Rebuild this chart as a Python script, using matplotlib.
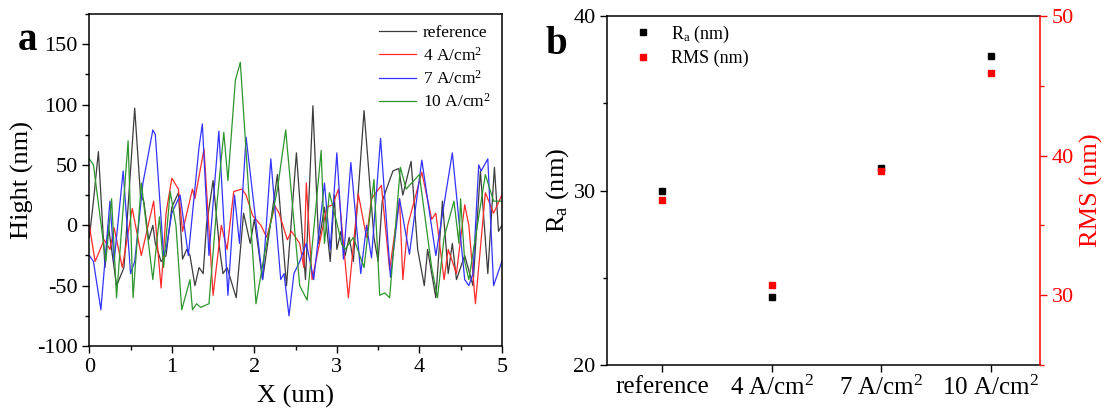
import matplotlib
matplotlib.use("Agg")
import matplotlib.pyplot as plt
from matplotlib.ticker import MultipleLocator

plt.rcParams['font.family'] = ['Liberation Serif', 'DejaVu Serif']
plt.rcParams['mathtext.fontset'] = 'custom'
plt.rcParams['mathtext.rm'] = 'Liberation Serif'
plt.rcParams['mathtext.it'] = 'Liberation Serif:italic'
plt.rcParams['axes.unicode_minus'] = False

# ---------------- data: panel a (height profiles) ----------------
ref_x = [0, 0.05, 0.11, 0.19, 0.23, 0.33, 0.42, 0.55, 0.62, 0.66, 0.72, 0.77, 0.80, 0.87, 0.93,
         1.0, 1.08, 1.13, 1.18, 1.22, 1.28, 1.33, 1.38, 1.42, 1.50, 1.58, 1.62, 1.67, 1.78, 1.87,
         1.95, 2.0, 2.1, 2.28, 2.39, 2.51, 2.62, 2.71, 2.78, 2.85, 2.92, 2.97, 3.0, 3.05, 3.1,
         3.15, 3.2, 3.33, 3.45, 3.5, 3.55, 3.68, 3.75, 3.8, 3.9, 3.98, 4.06, 4.1, 4.2, 4.28,
         4.35, 4.4, 4.45, 4.55, 4.65, 4.74, 4.83, 4.91, 4.96, 5.0]
ref_y = [-10, 20, 61, -35, 0, -50, -35, 97, 25, 20, -12, 0, -15, -30, -25,
         15, 27, -28, -20, -25, -50, -35, -40, 0, 37, -20, -40, -35, -60, 10,
         -15, 5, -45, 42, -50, 60, -45, 99, -15, 15, -30, 25, -20, -5, -25,
         -10, -30, 95, -10, -30, 20, 45, 47, 25, 53, -20, -50, -20, -60, 20,
         -40, -15, -45, -25, -50, 45, -40, 48, -5, 0]

a4_x = [0, 0.07, 0.18, 0.25, 0.3, 0.4, 0.52, 0.63, 0.78, 0.87, 0.93, 1.0, 1.08, 1.13, 1.25,
        1.28, 1.39, 1.5, 1.6, 1.67, 1.75, 1.85, 1.9, 1.98, 2.08, 2.15, 2.25, 2.3, 2.4, 2.45,
        2.55, 2.6, 2.63, 2.7, 2.88, 2.95, 3.02, 3.14, 3.26, 3.36, 3.42, 3.54, 3.64, 3.76, 3.8,
        3.86, 4.03, 4.15, 4.2, 4.3, 4.35, 4.45, 4.55, 4.6, 4.68, 4.8, 4.9, 5.0]
a4_y = [0, -30, -12, -20, -2, -35, 14, -25, 20, -52, 10, 39, 30, -5, 30,
        22, 63, -58, 0, -20, 28, 30, 25, 8, 0, -10, 16, 10, -12, -5,
        -15, -35, 35, -45, 15, 17, 30, -60, 26, -10, 22, 33, -37, 22, -45,
        0, 44, 5, 10, -45, -20, -40, 17, 0, -65, 27, 10, 25]

a7_x = [0, 0.05, 0.14, 0.25, 0.3, 0.41, 0.5, 0.55, 0.65, 0.77, 0.8, 0.9, 0.93, 1.0, 1.1,
        1.2, 1.33, 1.37, 1.45, 1.57, 1.68, 1.76, 1.82, 1.9, 2.1, 2.2, 2.32, 2.36, 2.42, 2.48,
        2.55, 2.63, 2.72, 2.85, 2.92, 3.0, 3.08, 3.17, 3.29, 3.36, 3.42, 3.53, 3.65, 3.76, 3.88,
        4.03, 4.2, 4.4, 4.55, 4.6, 4.65, 4.72, 4.75, 4.83, 4.9, 5.0]
a7_y = [-25, -30, -70, 20, -30, 45, -40, -30, 35, 79, 75, -25, -20, 10, 25,
        -25, 65, 84, -25, 78, -58, 25, -15, 73, -45, 55, -45, -40, -75, -40,
        -30, -15, -45, 35, -20, 60, -28, 52, -40, 0, -27, 72, -43, 22, -24,
        54, -25, 60, -45, -50, -40, 50, 45, 55, -50, -30]

a10_x = [0, 0.05, 0.2, 0.27, 0.33, 0.47, 0.53, 0.63, 0.77, 0.85, 0.9, 0.98, 1.05, 1.12, 1.22,
         1.25, 1.3, 1.35, 1.45, 1.55, 1.63, 1.68, 1.77, 1.83, 2.02, 2.12, 2.28, 2.38, 2.55, 2.64,
         2.81, 2.85, 2.91, 3.0, 3.06, 3.1, 3.2, 3.33, 3.45, 3.52, 3.58, 3.64, 3.77, 3.84, 4.0,
         4.15, 4.22, 4.3, 4.42, 4.48, 4.5, 4.55, 4.6, 4.8, 4.9, 5.0]
a10_y = [55, 50, -30, 22, -60, 70, -60, 35, -45, 7, -35, 28, 0, -70, -45,
         -70, -65, -68, -65, 20, 77, 37, 120, 135, -65, -25, 30, 79, -50, -62,
         62, -15, 27, 2, -16, -20, -10, -35, 38, -58, -56, -60, 48, 30, 42,
         -35, -60, -10, 20, -15, 22, -30, -45, 42, 20, 20]

series_labels = ['reference', '4 A/cm$^2$', '7 A/cm$^2$', '10 A/cm$^2$']

# ---------------- data: panel b (roughness) ----------------
categories = ['reference', '4 A/cm$^2$', '7 A/cm$^2$', '10 A/cm$^2$']
Ra = [30.0, 23.9, 31.3, 37.7]
RMS = [36.8, 30.7, 38.9, 45.9]

fig = plt.figure(figsize=(11.11, 4.18), dpi=100)

# ---------------- panel a ----------------
ax = fig.add_axes([0.0804, 0.1722, 0.3713, 0.7943])
colors = ['#3c3c3c', '#ff2a2a', '#3333ff', '#2e962e']
for xs, ys, c, lab in zip([ref_x, a4_x, a7_x, a10_x], [ref_y, a4_y, a7_y, a10_y], colors, series_labels):
    ax.plot(xs, ys, color=c, lw=0.9, label=lab)
ax.set_xlim(0, 5)
ax.set_ylim(-100, 175)
ax.xaxis.set_major_locator(MultipleLocator(1))
ax.xaxis.set_minor_locator(MultipleLocator(0.5))
ax.yaxis.set_major_locator(MultipleLocator(50))
ax.yaxis.set_minor_locator(MultipleLocator(25))
ax.tick_params(which='both', direction='out', top=False, right=False, labelsize=16)
ax.tick_params(which='major', length=5, width=1)
ax.tick_params(which='minor', length=3, width=1)
for s in ax.spines.values():
    s.set_linewidth(1.1)
ax.set_xlabel('X (um)', fontsize=19, labelpad=6)
ax.set_ylabel('Hight (nm)', fontsize=19, labelpad=2)
ax.legend(loc='upper right', frameon=False, fontsize=12.5, handlelength=2.1,
          handletextpad=0.4, labelspacing=0.3, borderaxespad=0.25)
fig.text(0.016, 0.88, 'a', fontsize=28, fontweight='bold')

# ---------------- panel b ----------------
bx = fig.add_axes([0.5468, 0.1268, 0.3893, 0.8349])
pos = list(range(len(categories)))
bx.plot(pos, Ra, 's', color='black', ms=5, ls='none', label='R$_\\mathregular{a}$ (nm)')
bx.set_xlim(-0.5, 3.45)
bx.set_ylim(20, 40)
bx.set_xticks(pos)
bx.set_xticklabels(categories)
bx.yaxis.set_major_locator(MultipleLocator(10))
bx.yaxis.set_minor_locator(MultipleLocator(5))
bx.tick_params(axis='x', labelsize=18, length=5, width=1, pad=3)
bx.tick_params(axis='y', which='both', labelsize=16, width=1)
bx.tick_params(axis='y', which='major', length=5)
bx.tick_params(axis='y', which='minor', length=3)
bx.set_ylabel('R$_\\mathregular{a}$ (nm)', fontsize=19, labelpad=2)
bx.spines['right'].set_visible(False)
for s in ['left', 'bottom', 'top']:
    bx.spines[s].set_linewidth(1.1)

cx = bx.twinx()
cx.plot(pos, RMS, 's', color='red', ms=5, ls='none', label='RMS (nm)')
cx.set_ylim(25, 50)
cx.yaxis.set_major_locator(MultipleLocator(10))
cx.yaxis.set_minor_locator(MultipleLocator(5))
cx.tick_params(axis='y', which='both', colors='red', labelsize=16, width=1)
cx.tick_params(axis='y', which='major', length=5)
cx.tick_params(axis='y', which='minor', length=3)
cx.spines['right'].set_color('red')
cx.spines['right'].set_linewidth(1.1)
for s in ['left', 'bottom', 'top']:
    cx.spines[s].set_visible(False)
cx.set_ylabel('RMS (nm)', fontsize=19, color='red', labelpad=4)

h1, l1 = bx.get_legend_handles_labels()
h2, l2 = cx.get_legend_handles_labels()
bx.legend(h1 + h2, l1 + l2, loc='upper left', bbox_to_anchor=(0.01, 1.015), frameon=False,
          fontsize=13, handletextpad=0.6, labelspacing=0.3, borderaxespad=0.3)
fig.text(0.491, 0.87, 'b', fontsize=28, fontweight='bold')

fig.savefig('out.png', dpi=100)
